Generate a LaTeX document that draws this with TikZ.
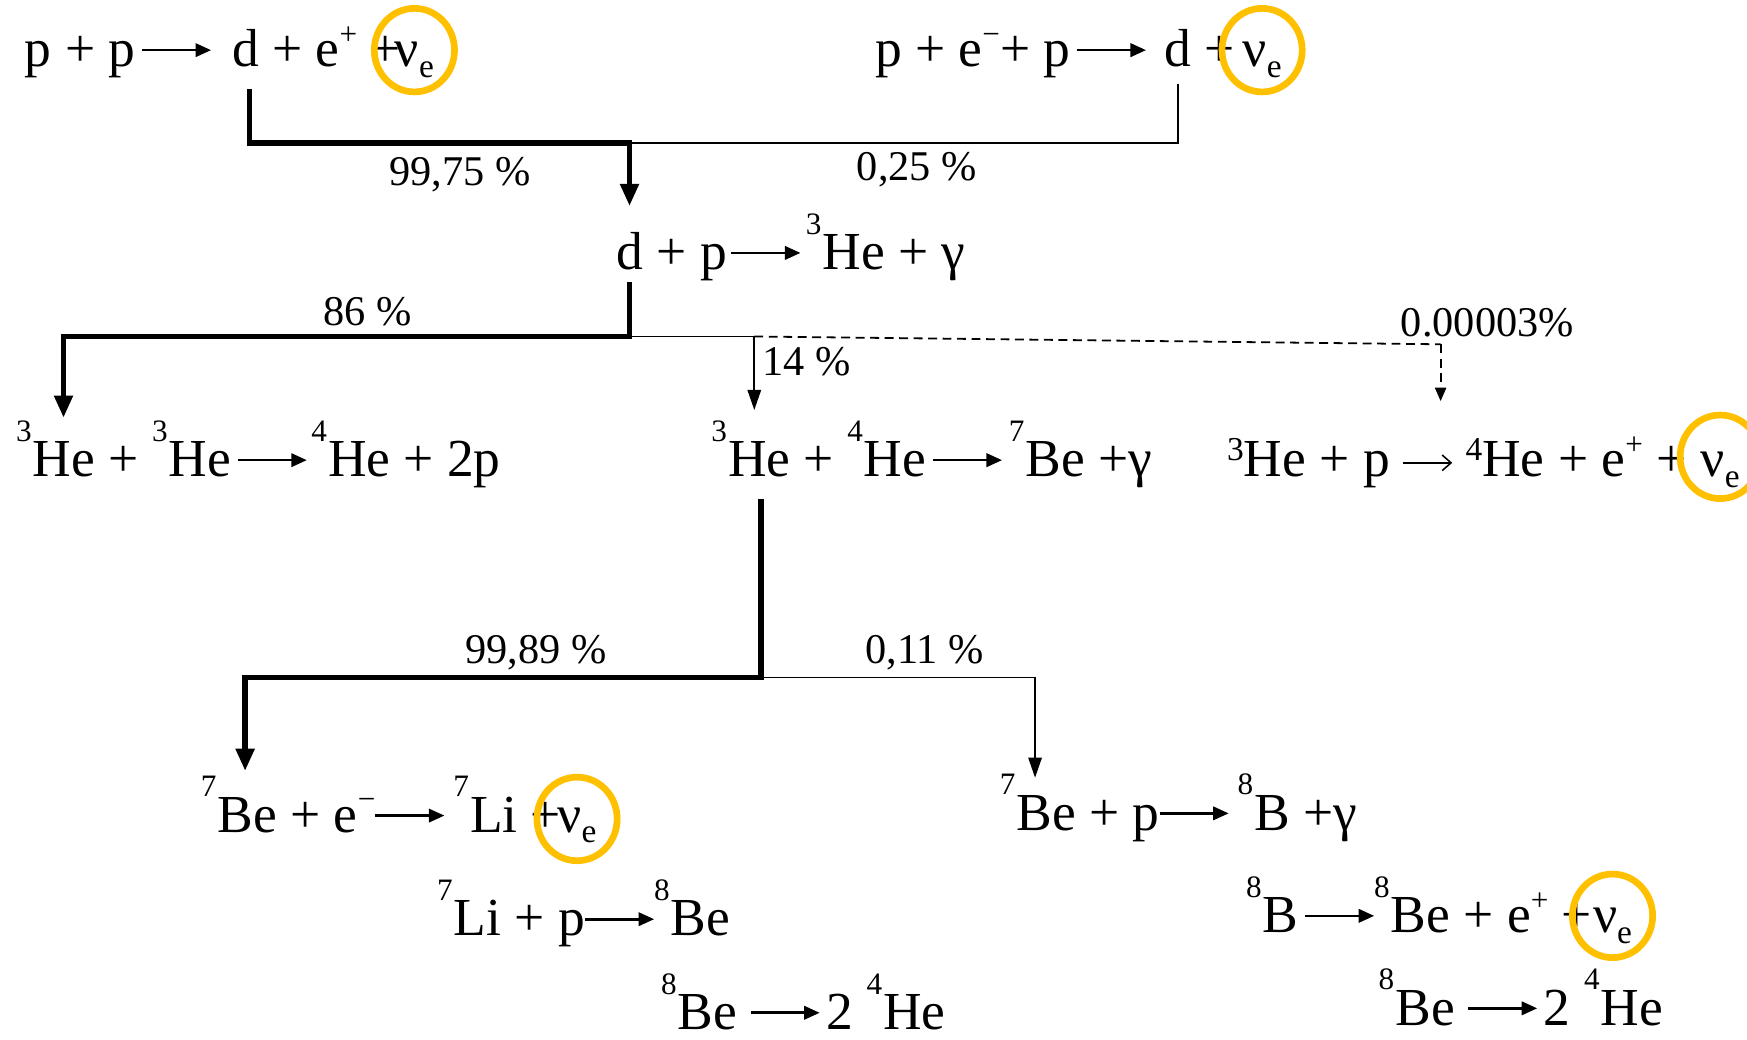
\documentclass[tikz,border=0pt]{standalone}
\usepackage{fontspec}
\setmainfont{Liberation Serif}
\usetikzlibrary{arrows.meta,shapes.geometric}
\definecolor{gold}{RGB}{255,192,0}
\newsavebox\rxbox
\newsavebox\thinrxbox
\newcommand\eqfont{\fontsize{24pt}{28pt}\selectfont}
\newcommand\lblfont{\fontsize{19pt}{22pt}\selectfont}
\newcommand\iso[2]{\raisebox{0.66em}{\fontsize{14pt}{14pt}\selectfont #1}\kern0.5pt #2}
\newcommand\up[1]{\raisebox{0.42em}{\fontsize{14pt}{14pt}\selectfont #1}}
\newcommand\tsup[1]{\raisebox{0.3em}{\fontsize{15pt}{15pt}\selectfont #1}}
\newcommand\nue{ν\raisebox{-0.2em}{\fontsize{15pt}{15pt}\selectfont e}}
\newcommand\rx{\usebox\rxbox}
\newcommand\thinrx{\usebox\thinrxbox}
\tikzset{
  eq/.style={anchor=base west, inner sep=0pt, font=\eqfont},
  lbl/.style={inner sep=0pt, font=\lblfont},
  nucirc/.style={draw=gold, line width=3pt, ellipse, minimum width=36pt, minimum height=37.5pt, inner sep=0pt},
  heavy/.style={line width=2.6pt, line join=miter},
  light/.style={line width=0.8pt},
  heavytip/.style={-{Triangle[length=10pt,width=8pt]}},
  lighttip/.style={-{Triangle[length=9pt,width=6pt]}},
  dashtip/.style={-{Triangle[length=6pt,width=5pt]}},
  dashline/.style={line width=0.8pt, dash pattern=on 4pt off 2.5pt},
}
\begin{document}
\sbox\rxbox{\begin{pgfpicture}%
\pgfpathrectangle{\pgfpoint{0pt}{0pt}}{\pgfpoint{31pt}{11pt}}%
\pgfusepath{use as bounding box}%
\pgfsetlinewidth{1.2pt}%
\pgfsetarrowsend{Triangle[length=7pt,width=6pt]}%
\pgfpathmoveto{\pgfpoint{0pt}{7.5pt}}%
\pgfpathlineto{\pgfpoint{31pt}{7.5pt}}%
\pgfusepath{stroke}%
\pgfsetbaseline{0pt}%
\end{pgfpicture}}%
\sbox\thinrxbox{\begin{pgfpicture}%
\pgfpathrectangle{\pgfpoint{0pt}{0pt}}{\pgfpoint{22pt}{11pt}}%
\pgfusepath{use as bounding box}%
\pgfsetlinewidth{0.7pt}%
\pgfsetarrowsend{Straight Barb[length=4pt,width=7pt]}%
\pgfpathmoveto{\pgfpoint{0pt}{6.3pt}}%
\pgfpathlineto{\pgfpoint{22pt}{6.3pt}}%
\pgfusepath{stroke}%
\pgfsetbaseline{0pt}%
\end{pgfpicture}}%
\begin{tikzpicture}[x=0.5pt,y=-0.5pt]
\useasboundingbox (0,0) rectangle (1568,933);

% row 1
\node[eq] (A1) at (22,60) {p + p\hspace{3pt}\rx};
\node[eq] (A2) at (208,60) {d + e\up{+} +};
\node[eq] (A3) at ([xshift=-3pt]A2.base east) {\nue};
\node[nucirc] (CA) at ([yshift=7.5pt]A3.base) {};

\node[eq] (B1) at (785,60) {p + e\up{−}+ p\hspace{3pt}\rx};
\node[eq] (B2) at (1045,60) {d +};
\node[eq] (B3) at ([xshift=3pt]B2.base east) {\nue};
\node[nucirc] (CB) at ([yshift=7.5pt]B3.base) {};

% row 2
\node[eq] (C1) at (553,242) {d + p\hspace{2pt}\rx};
\node[eq] (C2) at (723,242) {\iso{3}{He} + γ};

% row 3
\node[eq] (D1) at (14,428) {\iso{3}{He} + \iso{3}{He}\hspace{3pt}\rx\hspace{2pt}\iso{4}{He} + 2p};
\node[eq] (D2) at (638,428) {\iso{3}{He} + \iso{4}{He}\hspace{3pt}\rx\hspace{3pt}\iso{7}{Be} +γ};
\node[eq] (D3) at (1101,428) {\tsup{3}He + p \thinrx\ \tsup{4}He + e\up{+} +};
\node[eq] (D3n) at ([xshift=6pt]D3.base east) {\nue};
\node[nucirc] (CD) at ([yshift=9pt]D3n.base) {};

% row 4
\node[eq] (E1) at (180,747) {\iso{7}{Be} + e\up{−}\rx\hspace{4pt}\iso{7}{Li} +};
\node[eq] (E1n) at ([xshift=-2pt]E1.base east) {\nue};
\node[nucirc] (CE) at ([yshift=6pt]E1n.base) {};
\node[eq] (E2) at (897,745) {\iso{7}{Be} + p\rx\hspace{4pt}\iso{8}{B} +γ};

% row 5
\node[eq] (F1) at (392,840) {\iso{7}{Li} + p\rx\iso{8}{Be}};
\node[eq] (F2) at (1118,837) {\iso{8}{B}\hspace{3pt}\rx\iso{8}{Be} + e\up{+} +};
\node[eq] (F2n) at (F2.base east) {\nue};
\node[nucirc] (CF) at ([yshift=7.5pt]F2n.base) {};

% row 6
\node[eq] (G1) at (593,924) {\iso{8}{Be}\hspace{6pt}\rx\hspace{3pt}2 \iso{4}{He}};
\node[eq] (G2) at (1237,920) {\iso{8}{Be}\hspace{6pt}\rx\hspace{3pt}2 \iso{4}{He}};

% labels
\node[lbl] (L1) at (413,157) {99,75 \%};
\node[lbl] (L2) at (823,152) {0,25 \%};
\node[lbl] (L3) at (330,280) {86 \%};
\node[lbl,anchor=west] (L4) at (684,325) {14 \%};
\node[lbl] (L5) at (1335,290) {0.00003\%};
\node[lbl] (L6) at (481,586) {99,89 \%};
\node[lbl] (L7) at (830,586) {0,11 \%};

% junctions
\coordinate (J1) at (565,128);
\coordinate (J2) at (565,302);
\coordinate (J3) at (677,302);
\coordinate (J4) at (683,608);
\coordinate (K1) at (1293,309);

\coordinate (a2s) at ([shift={(16,20)}]A2.base west);
\coordinate (b2s) at ([shift={(12,15)}]B2.base west);
\coordinate (c1t) at ([shift={(12,-57)}]C1.base west);
\coordinate (c1s) at ([shift={(12,11)}]C1.base west);
\coordinate (d1t) at ([shift={(43,-53)}]D1.base west);
\coordinate (d2t) at ([shift={(39,-60)}]D2.base west);
\coordinate (d3t) at ([shift={(192,-68)}]D3.base west);
\coordinate (d2s) at ([shift={(45,20)}]D2.base west);
\coordinate (e1t) at ([shift={(40,-55)}]E1.base west);
\coordinate (e2t) at ([shift={(32,-47)}]E2.base west);

% connectors
\draw[light] (b2s) |- (J1);
\draw[heavy,heavytip] (a2s) |- (J1) -- (c1t);
\draw[light,lighttip] (J2) -- (J3) -- (d2t);
\draw[dashline] (J3) -- (K1);
\draw[light,dashline,dashtip] (K1) -- (d3t);
\draw[heavy,heavytip] (c1s) -- (J2) -| (d1t);
\draw[light,lighttip] (J4) -| (e2t);
\draw[heavy,heavytip] (d2s) -- (J4) -| (e1t);
\end{tikzpicture}
\end{document}
